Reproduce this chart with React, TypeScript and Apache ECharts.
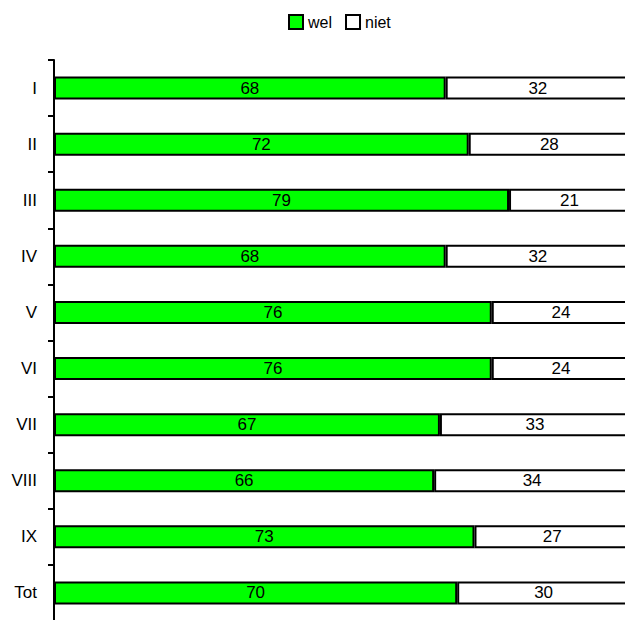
import React, { useEffect, useRef } from "react";
import * as echarts from "echarts";

const categories = ["I", "II", "III", "IV", "V", "VI", "VII", "VIII", "IX", "Tot"];
const welValues = [68, 72, 79, 68, 76, 76, 67, 66, 73, 70];
const nietValues = [32, 28, 21, 32, 24, 24, 33, 34, 27, 30];

const FONT = "'Liberation Sans', Arial, sans-serif";

export default function App() {
  const ref = useRef<HTMLDivElement>(null);

  useEffect(() => {
    if (!ref.current) return;
    const chart = echarts.init(ref.current, null, { renderer: "svg" });
    const labelStyle = {
      show: true,
      position: "inside",
      color: "#000",
      fontSize: 17,
      fontFamily: FONT,
    };
    chart.setOption({
      animation: false,
      backgroundColor: "#fff",
      textStyle: { fontFamily: FONT },
      legend: {
        top: 14,
        left: 288,
        padding: 0,
        itemWidth: 14,
        itemHeight: 14,
        itemGap: 13,
        icon: "rect",
        textStyle: { color: "#000", fontSize: 16, fontFamily: FONT, padding: [0, 0, 0, 0] },
        data: [
          { name: "wel", itemStyle: { color: "#00ff00", borderColor: "#000", borderWidth: 2 } },
          { name: "niet", itemStyle: { color: "#fff", borderColor: "#000", borderWidth: 2 } },
        ],
      },
      grid: {
        left: 54,
        top: 60,
        width: 576,
        height: 561,
        containLabel: false,
        outerBoundsMode: "none",
      },
      xAxis: {
        type: "value",
        min: 0,
        max: 100,
        show: false,
      },
      yAxis: {
        type: "category",
        inverse: true,
        data: categories,
        axisLine: { show: true, lineStyle: { color: "#000", width: 2 } },
        axisTick: { show: true, length: 6, lineStyle: { color: "#000", width: 2 } },
        axisLabel: { color: "#000", fontSize: 17, fontFamily: FONT, margin: 17 },
      },
      series: [
        {
          name: "wel",
          type: "bar",
          stack: "total",
          data: welValues,
          barWidth: 23,
          itemStyle: { color: "#00ff00", borderColor: "#000", borderWidth: 2 },
          label: labelStyle,
        },
        {
          name: "niet",
          type: "bar",
          stack: "total",
          data: nietValues,
          barWidth: 23,
          itemStyle: { color: "#fff", borderColor: "#000", borderWidth: 2 },
          label: labelStyle,
        },
      ],
    });
    return () => chart.dispose();
  }, []);

  return (
    <div
      ref={ref}
      style={{ position: "fixed", left: 0, top: 0, width: 625, height: 620 }}
    />
  );
}
